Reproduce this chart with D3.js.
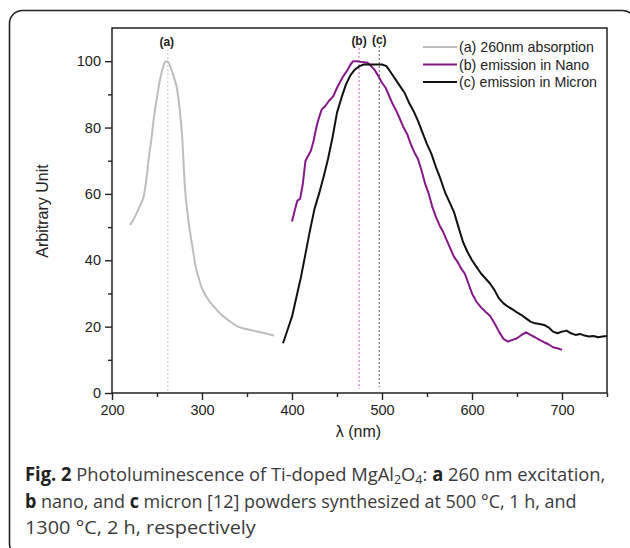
<!DOCTYPE html>
<html><head><meta charset="utf-8">
<script src="https://cdn.jsdelivr.net/npm/d3@7"></script>
<style>body{margin:0;background:#fff;} svg{display:block;}</style>
</head><body>
<svg id="c" width="630" height="548"></svg>
<script>
// ---- data ----
const seriesNames = ["(a) 260nm absorption", "(b) emission in Nano", "(c) emission in Micron"];
const absorptionX = [220,223,227,232,235,238,241,244,247,250,253,256,259,261,263,266,269,272,275,278,281,284,287,290,293,296,300,305,310,315,320,325,330,335,340,350,360,370,380];
const absorptionY = [50.7,51.8,54,57,59,64,71,77,84,89,94,97.5,99.8,100,99.5,97.5,95,92,86,77,62,54,48,43,38,35,31.5,29,27,25.5,24,22.8,21.8,20.8,20,19.2,18.6,18,17.3];
const nanoX = [400,403,406,409,412,415,418,421,424,427,430,433,437,441,446,450,454,457,461,465,468,472,476,480,484,488,492,496,500,504,508,512,516,520,524,528,532,536,540,544,548,552,556,560,564,568,572,576,580,584,588,592,596,600,605,610,615,620,625,630,635,640,645,650,655,660,665,670,675,680,685,690,695,700];
const nanoY = [51.7,55,58,58.5,63,70,71.5,73,76,80,83,85.4,86.5,88,89.5,92,94,95.5,97,99,100,100,99.8,99.7,99.5,98.5,97.3,95.5,93.5,92,89.5,87,85,82.5,80,78,75,72.5,70.5,67,63,60,56,53,50.5,48.5,46,43.5,41,39.5,37.5,36,33,30,27.5,25.8,24.5,23.3,21,18.5,16.3,15.5,16,16.5,17.5,18.3,17.5,16.8,16,15.3,14.7,13.8,13.5,13];
const micronX = [390,395,400,405,410,415,420,425,430,435,440,445,450,455,460,465,470,475,480,485,490,495,500,505,510,515,520,525,530,535,540,545,550,555,560,565,570,575,580,585,590,595,600,605,610,615,620,625,630,635,640,645,650,655,660,665,670,675,680,685,690,695,700,705,710,715,720,725,730,735,740,745,750];
const micronY = [15,19,23,29,35,42,49,55.5,60,65,70.5,77,84.5,89,93,95.8,97.5,98.5,99,99,99,99,99,98.5,96.5,94.5,92.5,90.5,87.5,85,82,78.5,75,72,68,64.5,60.5,57.5,54.5,50,45.5,42.5,40,38,36,34.5,33,31,28.5,27,26,25.2,24.3,23.5,22.5,21.5,21,20.8,20.5,19.8,18.5,18,18.5,18.8,18,17.5,17.8,17.3,17,17.2,16.8,17,17.2];
const peakLabels = ["(a)", "(b)", "(c)"];
const peakX = [262, 474.5, 497];
const xTicks = [200,300,400,500,600,700];
const yTicks = [0,20,40,60,80,100];
const xDomain = [200, 750];
const yDomain = [0, 110];
const xLabel = "λ (nm)";
const yLabel = "Arbitrary Unit";

// ---- layout ----
const svg = d3.select("#c");
const L = 112, R = 607, T = 28, B = 393;
const x = d3.scaleLinear().domain(xDomain).range([L, R]);
const y = d3.scaleLinear().domain(yDomain).range([B, T]);
const font = "'Liberation Sans', Arial, Helvetica, sans-serif";

// outer rounded frame
svg.append("rect").attr("x", 9.5).attr("y", 10.5).attr("width", 626).attr("height", 546)
  .attr("rx", 13).attr("fill", "none").attr("stroke", "#222").attr("stroke-width", 1.6);

// dotted peak markers
const markerColors = ["#cfcfcf", "#d27ad2", "#777"];
const markerTop = [49, 48, 46];
const markerBottom = [393, 389, 387];
peakX.forEach((p, i) => {
  svg.append("line").attr("x1", x(p)).attr("x2", x(p)).attr("y1", markerTop[i]).attr("y2", markerBottom[i])
    .attr("stroke", markerColors[i]).attr("stroke-width", 1.2).attr("stroke-dasharray", "2,2");
});
const labelY = [46, 45, 44];
peakLabels.forEach((t, i) => {
  svg.append("text").attr("x", x(peakX[i]) - (i === 0 ? 1 : 0)).attr("y", labelY[i]).attr("text-anchor", "middle")
    .attr("font-family", font).attr("font-weight", "bold").attr("font-size", 12).attr("fill", "#222").text(t);
});

// lines
const colors = ["#bdbdbd", "#86188a", "#111"];
const sets = [[absorptionX, absorptionY], [nanoX, nanoY], [micronX, micronY]];
sets.forEach((s, i) => {
  const pts = s[0].map((v, j) => [v, s[1][j]]);
  const line = d3.line().x(d => x(d[0])).y(d => y(d[1])).curve(i === 0 ? d3.curveMonotoneX : d3.curveLinear);
  svg.append("path").datum(pts).attr("d", line).attr("fill", "none")
    .attr("stroke", colors[i]).attr("stroke-width", 2).attr("stroke-linejoin", "round");
});

// axes
const xAxis = svg.append("g").attr("transform", `translate(0,${B})`)
  .call(d3.axisBottom(x).tickValues(xTicks).tickSize(7).tickPadding(5).tickFormat(d3.format("d")));
const xMinor = svg.append("g").attr("transform", `translate(0,${B})`)
  .call(d3.axisBottom(x).tickValues(d3.range(250, 751, 100)).tickSize(4).tickFormat(""));
const yAxis = svg.append("g").attr("transform", `translate(${L},0)`)
  .call(d3.axisLeft(y).tickValues(yTicks).tickSize(7).tickPadding(4).tickFormat(d3.format("d")));
const yMinor = svg.append("g").attr("transform", `translate(${L},0)`)
  .call(d3.axisLeft(y).tickValues(d3.range(10, 101, 20)).tickSize(4).tickFormat(""));
[xAxis, xMinor, yAxis, yMinor].forEach(g => {
  g.select(".domain").remove();
  g.selectAll("line").attr("stroke", "#222").attr("stroke-width", 1.4);
  g.selectAll("text").attr("font-family", font).attr("font-size", 14.5).attr("fill", "#222");
});
// frame
svg.append("rect").attr("x", L).attr("y", T).attr("width", R - L).attr("height", B - T)
  .attr("fill", "none").attr("stroke", "#222").attr("stroke-width", 1.5);

// axis labels
svg.append("text").attr("x", 358.5).attr("y", 437).attr("text-anchor", "middle")
  .attr("font-family", font).attr("font-size", 16).attr("fill", "#222").text(xLabel);
svg.append("text").attr("transform", "translate(48,211) rotate(-90)").attr("text-anchor", "middle")
  .attr("font-family", font).attr("font-size", 16).attr("fill", "#222").text(yLabel);

// legend
const legY = [47, 64.5, 82];
seriesNames.forEach((n, i) => {
  svg.append("line").attr("x1", 423).attr("x2", 457).attr("y1", legY[i]).attr("y2", legY[i])
    .attr("stroke", colors[i]).attr("stroke-width", 2);
  svg.append("text").attr("x", 459).attr("y", legY[i] + 5).attr("font-family", font).attr("font-size", 14.2)
    .attr("fill", "#222").text(n);
});

// caption
const capFont = "'Open Sans', 'Noto Sans', sans-serif";
function capLine(parts, baseline, x0, x1) {
  const t = svg.append("text").attr("x", 0).attr("y", 0).attr("font-family", capFont)
    .attr("font-size", 19).attr("fill", "#3a3a3a");
  parts.forEach(p => {
    const s = t.append("tspan").text(p.t);
    if (p.b) s.attr("font-weight", "bold").attr("fill", "#222");
    if (p.sub) s.attr("font-size", 13).attr("baseline-shift", "-3");
  });
  const w = t.node().getComputedTextLength();
  t.attr("transform", `translate(${x0},${baseline}) scale(${(x1 - x0) / w},1)`);
}
capLine([{t:"Fig. 2", b:true},{t:" Photoluminescence of Ti-doped MgAl"},{t:"2", sub:true},{t:"O"},{t:"4", sub:true},{t:": "},{t:"a", b:true},{t:" 260 nm excitation,"}], 481, 25, 606);
capLine([{t:"b", b:true},{t:" nano, and "},{t:"c", b:true},{t:" micron [12] powders synthesized at 500 °C, 1 h, and"}], 507.5, 25, 577);
capLine([{t:"1300 °C, 2 h, respectively"}], 534, 25, 256);
</script>
</body></html>
